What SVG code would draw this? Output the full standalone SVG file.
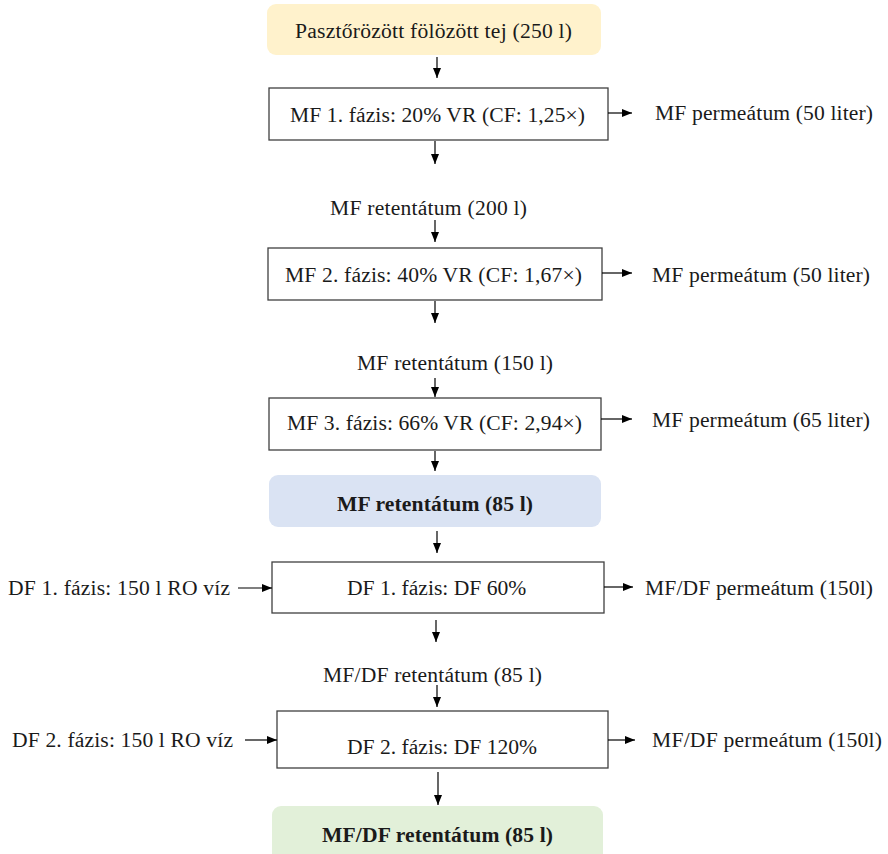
<svg xmlns="http://www.w3.org/2000/svg" width="888" height="854" viewBox="0 0 888 854">
<defs>
<marker id="ah" viewBox="0 0 10 10" refX="10" refY="5" markerWidth="10" markerHeight="10" markerUnits="userSpaceOnUse" orient="auto">
<path d="M0,1 L10,5 L0,9 Z" fill="#000"/>
</marker>
<style>
text{font-family:"Liberation Serif","Times New Roman",serif;font-size:21.6px;fill:#1a1a1a}
.b{font-weight:bold}
.box{fill:#fff;stroke:#404040;stroke-width:1.3}
.y{fill:#fff2cc}
.bl{fill:#dae3f3}
.g{fill:#e2f0d9}
.c line{stroke:#000;stroke-width:1.2;marker-end:url(#ah)}
</style>
</defs>
<rect width="888" height="854" fill="#fff"/>
<g id="n-start"><rect class="y" x="267" y="4" width="334" height="51" rx="9"/><text x="295" y="38" textLength="277" lengthAdjust="spacing">Pasztőrözött fölözött tej (250 l)</text></g>
<g id="n-mf1"><rect class="box" x="269" y="88" width="339" height="52"/><text x="290" y="122" textLength="295" lengthAdjust="spacing">MF 1. fázis: 20% VR (CF: 1,25×)</text></g>
<g id="n-p1"><text x="655" y="120" textLength="218" lengthAdjust="spacing">MF permeátum (50 liter)</text></g>
<g id="n-r1"><text x="330" y="215" textLength="197" lengthAdjust="spacing">MF retentátum (200 l)</text></g>
<g id="n-mf2"><rect class="box" x="268" y="248" width="334" height="52"/><text x="285" y="282" textLength="297" lengthAdjust="spacing">MF 2. fázis: 40% VR (CF: 1,67×)</text></g>
<g id="n-p2"><text x="652" y="282" textLength="218" lengthAdjust="spacing">MF permeátum (50 liter)</text></g>
<g id="n-r2"><text x="357" y="370" textLength="196" lengthAdjust="spacing">MF retentátum (150 l)</text></g>
<g id="n-mf3"><rect class="box" x="269" y="398" width="332" height="52"/><text x="287" y="430" textLength="295" lengthAdjust="spacing">MF 3. fázis: 66% VR (CF: 2,94×)</text></g>
<g id="n-p3"><text x="652" y="427" textLength="218" lengthAdjust="spacing">MF permeátum (65 liter)</text></g>
<g id="n-mfret"><rect class="bl" x="269" y="475" width="332" height="52" rx="9"/><text class="b" x="337" y="511" textLength="196" lengthAdjust="spacing">MF retentátum (85 l)</text></g>
<g id="n-in1"><text x="8" y="595" textLength="222" lengthAdjust="spacing">DF 1. fázis: 150 l RO víz</text></g>
<g id="n-df1"><rect class="box" x="272" y="562" width="332" height="51"/><text x="347" y="595">DF 1. fázis: DF 60%</text></g>
<g id="n-p4"><text x="645" y="595" textLength="228" lengthAdjust="spacing">MF/DF permeátum (150l)</text></g>
<g id="n-r3"><text x="323" y="682" textLength="219" lengthAdjust="spacing">MF/DF retentátum (85 l)</text></g>
<g id="n-in2"><text x="12" y="747" textLength="221" lengthAdjust="spacing">DF 2. fázis: 150 l RO víz</text></g>
<g id="n-df2"><rect class="box" x="277" y="711" width="331" height="57"/><text x="347" y="754" textLength="190" lengthAdjust="spacing">DF 2. fázis: DF 120%</text></g>
<g id="n-p5"><text x="652" y="747" textLength="230" lengthAdjust="spacing">MF/DF permeátum (150l)</text></g>
<g id="n-final"><rect class="g" x="272" y="806" width="331" height="60" rx="9"/><text class="b" x="322" y="842" textLength="231" lengthAdjust="spacing">MF/DF retentátum (85 l)</text></g>
<g id="connectors" class="c">
<line x1="437" y1="57" x2="437" y2="78"/>
<line x1="435" y1="141" x2="435" y2="164"/>
<line x1="435" y1="220" x2="435" y2="242"/>
<line x1="435" y1="301" x2="435" y2="323"/>
<line x1="435" y1="378" x2="435" y2="397"/>
<line x1="435" y1="451" x2="435" y2="471"/>
<line x1="437" y1="531" x2="437" y2="553"/>
<line x1="436" y1="620" x2="436" y2="642"/>
<line x1="437" y1="685" x2="437" y2="707"/>
<line x1="438" y1="772" x2="438" y2="805"/>
<line x1="608" y1="113" x2="632" y2="113"/>
<line x1="602" y1="273" x2="632" y2="273"/>
<line x1="601" y1="419" x2="632" y2="419"/>
<line x1="604" y1="587" x2="633" y2="587"/>
<line x1="608" y1="740" x2="635" y2="740"/>
<line x1="238" y1="588" x2="272" y2="588"/>
<line x1="245" y1="740" x2="277" y2="740"/>
</g>
</svg>
